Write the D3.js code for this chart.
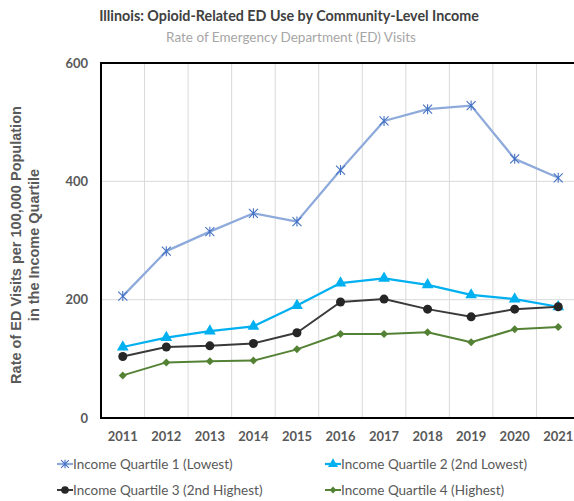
<!DOCTYPE html>
<html>
<head>
<meta charset="utf-8">
<script src="https://cdn.jsdelivr.net/npm/d3@7"></script>
<style>
  html, body { margin: 0; padding: 0; background: #fff; }
  svg { display: block; }
</style>
</head>
<body>
<div id="chart"></div>
<script>
// Opioid-related ED visit rates by community income quartile, Illinois 2011-2021
const years = ["2011","2012","2013","2014","2015","2016","2017","2018","2019","2020","2021"];
const q1 = [206, 282, 315, 346, 332, 419, 502, 522, 528, 438, 406];
const q2 = [120, 136, 147, 155, 190, 228, 236, 225, 208, 201, 188];
const q3 = [104, 120, 122, 126, 144, 196, 201, 184, 171, 184, 188];
const q4 = [72, 94, 96, 97, 116, 142, 142, 145, 128, 150, 154];
const yTicks = [0, 200, 400, 600];
const seriesNames = [
  "Income Quartile 1 (Lowest)",
  "Income Quartile 2 (2nd Lowest)",
  "Income Quartile 3 (2nd Highest)",
  "Income Quartile 4 (Highest)"
];

const W = 574, H = 501;
const font = "Lato, 'Open Sans', sans-serif";

const series = [
  { name: seriesNames[0], values: q1, line: "#8eaadb", mark: "#4472c4", shape: "star", width: 2.25 },
  { name: seriesNames[1], values: q2, line: "#00b0f0", mark: "#00b0f0", shape: "triangle", width: 2.25 },
  { name: seriesNames[2], values: q3, line: "#3a3a3a", mark: "#262626", shape: "circle", width: 2 },
  { name: seriesNames[3], values: q4, line: "#548235", mark: "#548235", shape: "diamond", width: 2 }
];

const svg = d3.select("#chart").append("svg")
  .attr("width", W).attr("height", H);

const plot = { left: 101, right: 580, top: 63, bottom: 418 };

const x = d3.scaleBand().domain(years).range([plot.left, plot.right]).paddingInner(0).paddingOuter(0);
const y = d3.scaleLinear().domain([0, 600]).range([plot.bottom, plot.top]);
const cx = d => x(d) + x.bandwidth() / 2;

// gridlines
const grid = svg.append("g");
grid.selectAll("line.v").data(years.slice(1)).join("line")
  .attr("x1", d => x(d)).attr("x2", d => x(d))
  .attr("y1", plot.top).attr("y2", plot.bottom)
  .attr("stroke", "#d9d9d9").attr("stroke-width", 1);
grid.selectAll("line.h").data(yTicks.slice(1, -1)).join("line")
  .attr("x1", plot.left).attr("x2", plot.right)
  .attr("y1", d => y(d)).attr("y2", d => y(d))
  .attr("stroke", "#d9d9d9").attr("stroke-width", 1);

// frame: top, left and bottom borders
svg.append("line").attr("x1", plot.left - 1).attr("x2", plot.right)
  .attr("y1", y(600)).attr("y2", y(600)).attr("stroke", "#000").attr("stroke-width", 2);
svg.append("line").attr("x1", plot.left).attr("x2", plot.left)
  .attr("y1", plot.top - 1).attr("y2", plot.bottom + 1).attr("stroke", "#000").attr("stroke-width", 2);
svg.append("line").attr("x1", plot.left - 1).attr("x2", plot.right)
  .attr("y1", plot.bottom).attr("y2", plot.bottom).attr("stroke", "#000").attr("stroke-width", 2);

// axes
const yAxis = svg.append("g").attr("transform", `translate(${plot.left - 13},0)`)
  .call(d3.axisLeft(y).tickValues(yTicks).tickSize(0).tickPadding(0));
yAxis.select(".domain").remove();
yAxis.selectAll("text").attr("font-family", font).attr("font-weight", "bold")
  .attr("font-size", 13).attr("fill", "#595959");

const xAxis = svg.append("g").attr("transform", `translate(0,${plot.bottom + 14})`)
  .call(d3.axisBottom(x).tickSize(0).tickPadding(0));
xAxis.select(".domain").remove();
xAxis.selectAll("text").attr("font-family", font).attr("font-weight", "bold")
  .attr("font-size", 13).attr("fill", "#595959");

// marker drawing
function drawMarker(g, shape, color, px, py, scale = 1) {
  if (shape === "star") {
    const s = 4.5 * scale;
    g.append("path")
      .attr("d", `M${px - s},${py - s}L${px + s},${py + s}M${px - s},${py + s}L${px + s},${py - s}M${px},${py - s - 0.5}L${px},${py + s + 0.5}`)
      .attr("stroke", color).attr("stroke-width", 1.1).attr("fill", "none");
  } else if (shape === "triangle") {
    g.append("path").attr("d", d3.symbol(d3.symbolTriangle, 60 * scale * scale)())
      .attr("transform", `translate(${px},${py})`).attr("fill", color);
  } else if (shape === "circle") {
    g.append("circle").attr("cx", px).attr("cy", py).attr("r", 4.5 * scale).attr("fill", color);
  } else if (shape === "diamond") {
    const s = 4 * scale;
    g.append("path").attr("d", `M${px},${py - s}L${px + s},${py}L${px},${py + s}L${px - s},${py}Z`)
      .attr("fill", color);
  }
}

// series lines and markers
const line = d3.line().x((d, i) => cx(years[i])).y(d => y(d));
series.forEach(s => {
  const g = svg.append("g");
  g.append("path").datum(s.values).attr("d", line)
    .attr("fill", "none").attr("stroke", s.line).attr("stroke-width", s.width)
    .attr("stroke-linejoin", "round");
  s.values.forEach((v, i) => drawMarker(g, s.shape, s.mark, cx(years[i]), y(v)));
});

// titles
svg.append("text").attr("x", 289).attr("y", 21).attr("text-anchor", "middle")
  .attr("font-family", font).attr("font-weight", "bold").attr("font-size", 14.3)
  .attr("fill", "#404040").text("Illinois: Opioid-Related ED Use by Community-Level Income");
svg.append("text").attr("x", 291).attr("y", 42).attr("text-anchor", "middle")
  .attr("font-family", font).attr("font-size", 13.5)
  .attr("fill", "#a6a6a6").text("Rate of Emergency Department (ED) Visits");

// y-axis title
const yt = svg.append("text").attr("transform", "translate(21,245) rotate(-90)")
  .attr("text-anchor", "middle").attr("font-family", "'Liberation Sans', Arial, sans-serif")
  .attr("font-weight", "bold").attr("font-size", 14.5).attr("fill", "#595959");
yt.append("tspan").attr("x", 0).attr("dy", 0).text("Rate of ED Visits per 100,000 Population");
yt.append("tspan").attr("x", 0).attr("dy", 18).text("in the Income Quartile");

// legend
const legendPos = [[57, 464], [325, 464], [57, 490], [325, 490]];
series.forEach((s, i) => {
  const [lx, ly] = legendPos[i];
  const g = svg.append("g");
  g.append("line").attr("x1", lx).attr("x2", lx + 16).attr("y1", ly).attr("y2", ly)
    .attr("stroke", s.line).attr("stroke-width", s.width);
  drawMarker(g, s.shape, s.mark, lx + 8, ly, 0.85);
  g.append("text").attr("x", lx + 16).attr("y", ly + 5)
    .attr("font-family", font).attr("font-size", 13.5).attr("fill", "#595959").text(s.name);
});
</script>
</body>
</html>
